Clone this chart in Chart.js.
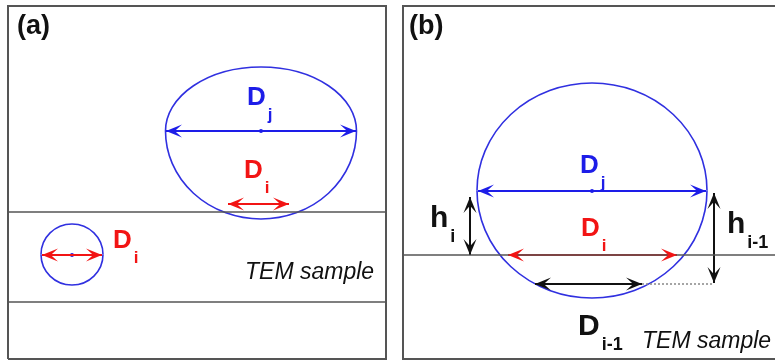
<!DOCTYPE html>
<html>
<head>
<meta charset="utf-8">
<script src="https://cdn.jsdelivr.net/npm/chart.js@4.4.0/dist/chart.umd.min.js"></script>
<style>
  html, body { margin: 0; padding: 0; background: #fff; }
  #wrap { width: 775px; height: 361px; }
</style>
</head>
<body>
<div id="wrap"><canvas id="fig" width="775" height="361"></canvas></div>
<script>
// figure units = pixels of the reference picture (x right, y down)
const frameA = [[8, 359], [8, 6], [386, 6], [386, 359], [8, 359]];
const frameB = [[777, 359], [403, 359], [403, 6], [777, 6]];
const sampleLines = [
  [[8, 212], [386, 212]],
  [[8, 302], [386, 302]],
  [[403, 255], [777, 255]],
];

// grains: centre, half width, half height above / below the widest line
const grains = [
  { cx: 261, cy: 131, rx: 95.5, up: 64, down: 88 },
  { cx: 72, cy: 254.5, rx: 31, up: 30.5, down: 30.5 },
  { cx: 592, cy: 190.5, rx: 115, up: 107.5, down: 107.5 },
];
const centres = [[261, 131], [72, 255], [592, 191]];

const blueArrows = [
  [[166, 131], [356, 131]],
  [[478, 191], [706, 191]],
];
const redArrows = [
  [[228, 204], [289, 204]],
  [[42, 255], [102, 255]],
  [[508, 255], [677, 255]],
];
const blackArrows = [
  [[535, 284], [642, 284]],
  [[470, 197], [470, 255]],
  [[714, 193], [714, 283]],
];
const dottedLines = [[[642, 284], [714, 284]]];

// labels: main text, subscript, x, baseline
const blueLabels = [["D", "j", 247, 105], ["D", "j", 580, 173]];
const redLabels = [["D", "i", 244, 178], ["D", "i", 113, 248], ["D", "i", 581, 236]];
const blackLabels = [["h", "i", 430, 227], ["h", "i-1", 727, 233], ["D", "i-1", 578, 335]];
const panelTags = [["(a)", 17, 34], ["(b)", 409, 34]];
const sampleTags = [["TEM sample", 245, 279], ["TEM sample", 642, 348]];

const BLUE = "#1d1de8";
const RED = "#f21414";
const GREY = "#555555";
const FONT = '"Liberation Sans", Arial, Helvetica, sans-serif';

function toPts(list) {
  return list.map(([x, y]) => ({ x, y }));
}

function lineSet(points, color, width, extra) {
  return Object.assign({
    data: toPts(points),
    showLine: true,
    borderColor: color,
    borderWidth: width,
    pointRadius: 0,
    pointHoverRadius: 0,
    fill: false,
    clip: false,
  }, extra || {});
}

const datasets = [];
datasets.push(lineSet(frameA, GREY, 2));
datasets.push(lineSet(frameB, GREY, 2));
sampleLines.forEach((l) => datasets.push(lineSet(l, GREY, 1.6)));
dottedLines.forEach((l) => datasets.push(lineSet(l, "#888", 1.5, { borderDash: [2, 2] })));
blueArrows.forEach((l) => datasets.push(lineSet(l, BLUE, 2, { arrow: true })));
redArrows.forEach((l) => datasets.push(lineSet(l, RED, 2, { arrow: true })));
blackArrows.forEach((l) => datasets.push(lineSet(l, "#111", 2, { arrow: true })));
datasets.push({
  data: toPts(centres),
  pointRadius: 2,
  pointHoverRadius: 2,
  pointBackgroundColor: BLUE,
  pointBorderWidth: 0,
  clip: false,
});

const grainPlugin = {
  id: "grains",
  beforeDatasetsDraw(chart) {
    const { ctx, scales: { x, y } } = chart;
    ctx.save();
    ctx.strokeStyle = "#3030e0";
    ctx.lineWidth = 1.6;
    grains.forEach((g) => {
      const px = x.getPixelForValue(g.cx);
      const py = y.getPixelForValue(g.cy);
      const rx = x.getPixelForValue(g.cx + g.rx) - px;
      const ru = py - y.getPixelForValue(g.cy - g.up);
      const rd = y.getPixelForValue(g.cy + g.down) - py;
      ctx.beginPath();
      ctx.ellipse(px, py, rx, Math.abs(ru), 0, Math.PI, 2 * Math.PI);
      ctx.stroke();
      ctx.beginPath();
      ctx.ellipse(px, py, rx, Math.abs(rd), 0, 0, Math.PI);
      ctx.stroke();
    });
    ctx.restore();
  },
};

function head(ctx, tip, back, color) {
  const dx = tip.x - back.x;
  const dy = tip.y - back.y;
  const len = Math.hypot(dx, dy);
  const ux = dx / len, uy = dy / len;
  const nx = -uy, ny = ux;
  const L = 16, W = 6.5;
  ctx.fillStyle = color;
  ctx.beginPath();
  ctx.moveTo(tip.x, tip.y);
  ctx.lineTo(tip.x - ux * L + nx * W, tip.y - uy * L + ny * W);
  ctx.lineTo(tip.x - ux * L * 0.55, tip.y - uy * L * 0.55);
  ctx.lineTo(tip.x - ux * L - nx * W, tip.y - uy * L - ny * W);
  ctx.closePath();
  ctx.fill();
}

const arrowPlugin = {
  id: "arrowHeads",
  afterDatasetsDraw(chart) {
    const ctx = chart.ctx;
    ctx.save();
    chart.data.datasets.forEach((ds, i) => {
      if (!ds.arrow) return;
      const pts = chart.getDatasetMeta(i).data;
      const a = pts[0], b = pts[pts.length - 1];
      head(ctx, b, a, ds.borderColor);
      head(ctx, a, b, ds.borderColor);
    });
    ctx.restore();
  },
};

function drawLabel(ctx, x, y, item, color, size, subSize) {
  const [main, sub, lx, ly] = item;
  const px = x.getPixelForValue(lx);
  const py = y.getPixelForValue(ly);
  ctx.fillStyle = color;
  ctx.font = "bold " + size + "px " + FONT;
  ctx.fillText(main, px, py);
  const w = ctx.measureText(main).width;
  ctx.font = "bold " + subSize + "px " + FONT;
  ctx.fillText(sub, px + w + 2, py + 15);
}

const textPlugin = {
  id: "texts",
  afterDraw(chart) {
    const { ctx, scales: { x, y } } = chart;
    ctx.save();
    ctx.textBaseline = "alphabetic";
    ctx.textAlign = "left";
    blueLabels.forEach((l) => drawLabel(ctx, x, y, l, BLUE, 26, 17));
    redLabels.forEach((l) => drawLabel(ctx, x, y, l, RED, 26, 17));
    blackLabels.forEach((l) => drawLabel(ctx, x, y, l, "#111", 30, 18));
    ctx.fillStyle = "#111";
    ctx.font = "bold 27px " + FONT;
    panelTags.forEach(([t, lx, ly]) => ctx.fillText(t, x.getPixelForValue(lx), y.getPixelForValue(ly)));
    ctx.font = "italic 23px " + FONT;
    sampleTags.forEach(([t, lx, ly]) => ctx.fillText(t, x.getPixelForValue(lx), y.getPixelForValue(ly)));
    ctx.restore();
  },
};

new Chart(document.getElementById("fig"), {
  type: "scatter",
  data: { datasets },
  options: {
    responsive: false,
    animation: false,
    devicePixelRatio: 1,
    events: [],
    layout: { padding: 0, autoPadding: false },
    plugins: { legend: { display: false }, tooltip: { enabled: false } },
    scales: {
      x: { type: "linear", min: 0, max: 775, display: false },
      y: { type: "linear", min: 0, max: 361, reverse: true, display: false },
    },
  },
  plugins: [grainPlugin, arrowPlugin, textPlugin],
});
</script>
</body>
</html>
